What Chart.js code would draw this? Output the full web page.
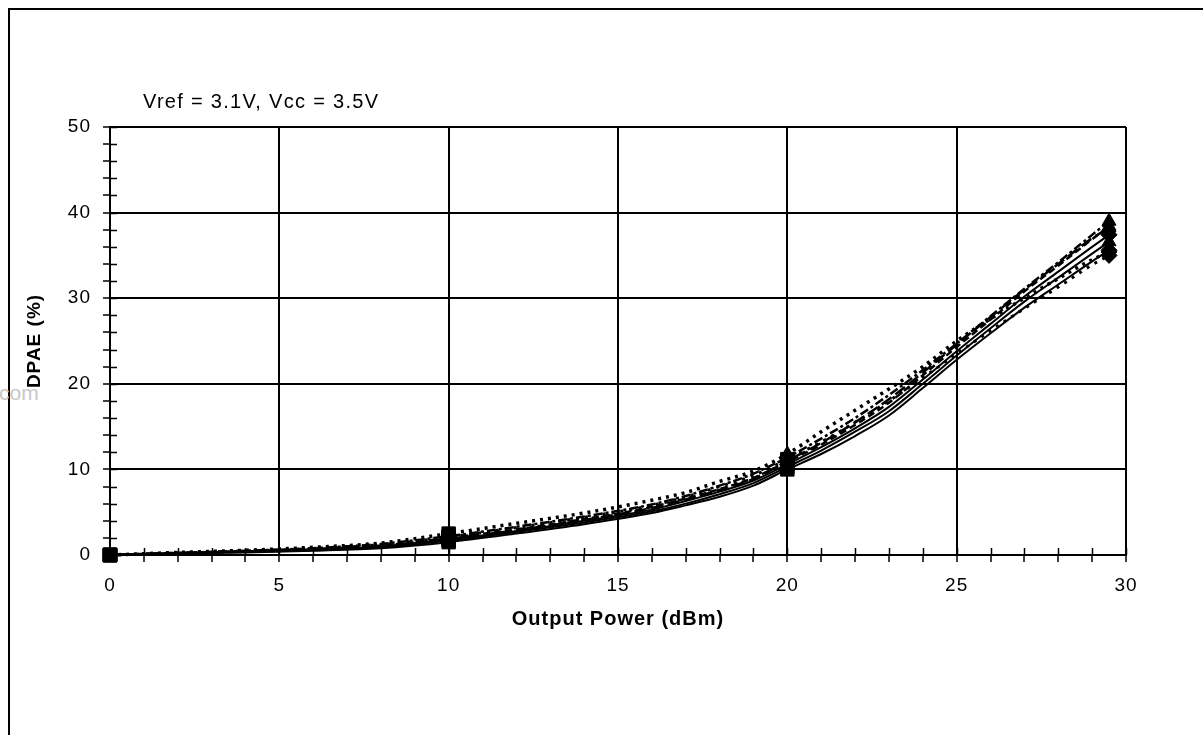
<!DOCTYPE html>
<html>
<head>
<meta charset="utf-8">
<title>DPAE vs Output Power</title>
<script src="https://cdn.jsdelivr.net/npm/chart.js@4.4.0/dist/chart.umd.min.js"></script>
<style>
  html, body { margin: 0; padding: 0; background: #fff; }
  #wrap { position: relative; width: 1203px; height: 735px; overflow: hidden; }
  #frame { position: absolute; left: 8px; top: 8px; width: 1300px; height: 800px;
           border-top: 2px solid #000; border-left: 2px solid #000; }
  #mark { position: absolute; left: -1px; top: 381px; color: #c8c8c8;
          font: 21px "Liberation Sans", Arial, sans-serif; }
  canvas { position: absolute; left: 0; top: 0; }
</style>
</head>
<body>
<div id="wrap">
  <div id="frame"></div>
  <div id="mark">com</div>
  <canvas id="dpaeChart" width="1203" height="735"></canvas>
</div>
<script>
// Output power (dBm) sample points
const powerDbm = [0, 2, 4, 6, 8, 10, 12, 14, 16, 17, 18, 19, 20, 21, 22, 23, 24, 25, 26, 27, 28, 29, 29.5];

// DPAE (%) curves
const curve1 = [0, 0.2, 0.3, 0.5, 0.8, 1.5, 2.5, 3.6, 4.9, 5.8, 6.8, 8.1, 10.0, 11.8, 13.9, 16.3, 19.5, 22.8, 25.9, 28.9, 31.6, 34.3, 35.6];
const curve2 = [0, 0.2, 0.35, 0.55, 0.9, 1.7, 2.7, 3.8, 5.1, 6.0, 7.1, 8.4, 10.3, 12.2, 14.4, 16.8, 20.0, 23.3, 26.5, 29.6, 32.4, 35.2, 36.6];
const curve3 = [0, 0.2, 0.4, 0.6, 1.0, 1.8, 2.8, 4.0, 5.3, 6.3, 7.4, 8.7, 10.6, 12.6, 14.8, 17.3, 20.5, 23.8, 27.0, 30.2, 33.1, 36.0, 37.4];
const curve4 = [0, 0.25, 0.45, 0.7, 1.1, 2.0, 3.0, 4.2, 5.6, 6.6, 7.7, 9.0, 10.9, 12.9, 15.2, 17.8, 21.0, 24.3, 27.5, 30.8, 33.8, 36.9, 38.4];
const curve5 = [0, 0.3, 0.55, 0.9, 1.4, 2.5, 3.7, 4.9, 6.4, 7.3, 8.6, 9.8, 11.8, 14.4, 16.9, 19.4, 22.0, 25.0, 27.6, 30.0, 32.3, 34.5, 35.4];
const curve6 = [0, 0.25, 0.5, 0.8, 1.3, 2.2, 3.3, 4.5, 5.9, 6.9, 8.1, 9.5, 11.4, 13.6, 16.0, 18.7, 21.6, 24.7, 27.9, 31.1, 34.2, 37.4, 39.0];
const curve7 = [0, 0.2, 0.45, 0.75, 1.2, 2.1, 3.2, 4.4, 5.8, 6.8, 8.0, 9.3, 11.2, 13.2, 15.5, 18.0, 20.7, 23.5, 26.2, 28.8, 31.3, 33.9, 35.0];
const curve8 = [0, 0.2, 0.4, 0.65, 1.05, 1.9, 2.9, 4.1, 5.5, 6.5, 7.6, 8.9, 11.0, 13.1, 15.5, 18.2, 21.3, 24.6, 27.8, 31.0, 34.0, 37.0, 38.2];

// marker shape at 0, 10, 20 dBm and the last point
const markers1 = ['rect', 'rect', 'rect', 'rectRot'];
const markers2 = ['rect', 'rect', 'rect', 'triangle'];
const markers3 = ['rect', 'rect', 'triangle', 'triangle'];
const markers4 = ['rect', 'rect', 'triangle', 'rectRot'];

const xTickLabels = [0, 5, 10, 15, 20, 25, 30];
const yTickLabels = [0, 10, 20, 30, 40, 50];

const markedX = [0, 10, 20, 29.5];

function makeSeries(values, dash, width, shapes) {
    return {
        data: powerDbm.map((p, i) => ({ x: p, y: values[i] })),
        borderColor: '#000',
        backgroundColor: '#000',
        borderWidth: width,
        borderDash: dash,
        clip: false,
        cubicInterpolationMode: 'monotone',
        pointStyle: function(ctx) {
            const k = markedX.indexOf(powerDbm[ctx.dataIndex]);
            return k >= 0 ? shapes[k] : 'rect';
        },
        pointRadius: function(ctx) {
            const k = markedX.indexOf(powerDbm[ctx.dataIndex]);
            if (k < 0) return 0;
            return shapes[k] === 'rect' ? 9.5 : 8;
        },
        pointBorderWidth: 1,
        pointBorderColor: '#000',
        pointBackgroundColor: '#000'
    };
}

// inward half of the tick marks (Excel style crossing ticks)
const innerTicks = {
    id: 'innerTicks',
    beforeDatasetsDraw(chart) {
        const ctx = chart.ctx;
        const area = chart.chartArea;
        const xs = chart.scales.x;
        const ys = chart.scales.y;
        ctx.save();
        ctx.strokeStyle = '#000';
        ctx.lineWidth = 1.5;
        ctx.beginPath();
        ys.ticks.forEach(t => {
            const py = Math.round(ys.getPixelForValue(t.value)) + 0.5;
            ctx.moveTo(area.left, py);
            ctx.lineTo(area.left + 7, py);
        });
        xs.ticks.forEach(t => {
            const px = Math.round(xs.getPixelForValue(t.value)) + 0.5;
            ctx.moveTo(px, area.bottom);
            ctx.lineTo(px, area.bottom - 7);
        });
        ctx.stroke();
        ctx.restore();
    }
};

// wider letter spacing like the original Excel output
const spacing = {
    id: 'spacing',
    beforeDraw(chart) {
        chart.ctx.letterSpacing = '1px';
    }
};

const noteText = {
    id: 'noteText',
    afterDraw(chart) {
        const ctx = chart.ctx;
        ctx.save();
        ctx.fillStyle = '#000';
        ctx.font = '20px "Liberation Sans", Arial, sans-serif';
        ctx.letterSpacing = '1.3px';
        ctx.textBaseline = 'alphabetic';
        ctx.fillText('Vref = 3.1V, Vcc = 3.5V', 143, 108);
        ctx.restore();
    }
};

const gridColor = c => (c.tick && yTickLabels.includes(c.tick.value)) ? '#000' : 'rgba(0,0,0,0)';
const gridColorX = c => (c.tick && xTickLabels.includes(c.tick.value)) ? '#000' : 'rgba(0,0,0,0)';

new Chart(document.getElementById('dpaeChart').getContext('2d'), {
    type: 'line',
    data: {
        datasets: [
            makeSeries(curve1, [], 2, markers1),
            makeSeries(curve2, [], 2, markers2),
            makeSeries(curve3, [], 2, markers1),
            makeSeries(curve4, [7, 4], 2.5, markers2),
            makeSeries(curve5, [3, 5], 3.5, markers4),
            makeSeries(curve6, [9, 3, 3, 3], 2.5, markers3),
            makeSeries(curve7, [3, 6], 3, markers1),
            makeSeries(curve8, [12, 5], 2.5, markers2)
        ]
    },
    options: {
        responsive: false,
        animation: false,
        layout: { padding: { top: 127, right: 77, left: 0, bottom: 0 } },
        plugins: { legend: { display: false }, tooltip: { enabled: false } },
        scales: {
            x: {
                type: 'linear',
                min: 0,
                max: 30,
                afterFit: s => { s.height = 180; },
                border: { color: '#000', width: 2 },
                grid: { color: gridColorX, lineWidth: 2, tickColor: '#000', tickLength: 7, tickWidth: 1.5 },
                ticks: {
                    stepSize: 1,
                    autoSkip: false,
                    maxRotation: 0,
                    padding: 12,
                    color: '#000',
                    font: { family: '"Liberation Sans", Arial, sans-serif', size: 19 },
                    callback: v => xTickLabels.includes(v) ? String(v) : ''
                },
                title: {
                    display: true,
                    text: 'Output Power (dBm)',
                    color: '#000',
                    font: { family: '"Liberation Sans", Arial, sans-serif', size: 20, weight: 'bold' },
                    padding: { top: 0, bottom: 104 }
                }
            },
            y: {
                min: 0,
                max: 50,
                afterFit: s => { s.width = 110; },
                border: { color: '#000', width: 2 },
                grid: { color: gridColor, lineWidth: 2, tickColor: '#000', tickLength: 7, tickWidth: 1.5 },
                ticks: {
                    stepSize: 2,
                    autoSkip: false,
                    padding: 12,
                    color: '#000',
                    font: { family: '"Liberation Sans", Arial, sans-serif', size: 19 },
                    callback: v => yTickLabels.includes(v) ? String(v) : ''
                },
                title: {
                    display: true,
                    text: 'DPAE (%)',
                    color: '#000',
                    font: { family: '"Liberation Sans", Arial, sans-serif', size: 19, weight: 'bold' },
                    padding: { top: 23, bottom: 0 }
                }
            }
        }
    },
    plugins: [spacing, innerTicks, noteText]
});
</script>
</body>
</html>
